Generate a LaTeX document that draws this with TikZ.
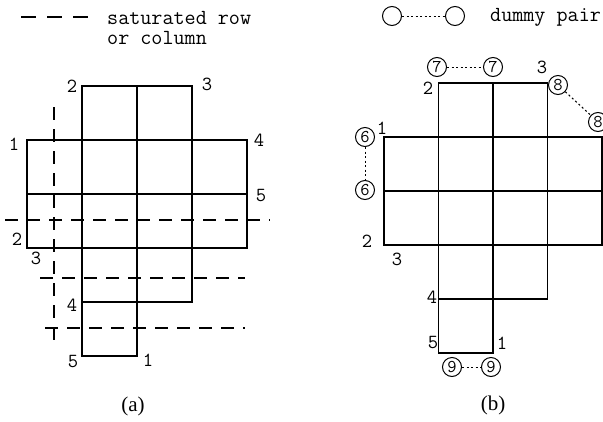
\documentclass[tikz,border=0pt]{standalone}
\usepackage{fontspec}
\setmainfont{Liberation Serif}
\usepackage{tikz}

\begin{document}
\begin{tikzpicture}[x=1pt,y=-1pt,
grid/.style={line width=1.4pt},
satline/.style={line width=1.1pt,dash pattern=on 13pt off 9pt},
num/.style={inner sep=0pt,font=\fontsize{20}{20}\ttfamily},
dummy/.style={circle,draw,line width=1pt,inner sep=0pt,minimum size=19pt,font=\fontsize{18}{18}\ttfamily},
pairline/.style={line width=1pt,dash pattern=on 2pt off 2.5pt}]
\useasboundingbox(0,0)rectangle(603,421);
% legend (a)
\draw[satline,dash pattern=on 15pt off 11pt](21,17)--(97,17);
\node[anchor=north west,align=left,inner sep=0pt,font=\fontsize{21.5}{20}\ttfamily](satnote)at(107,11){saturated row\\or column};
% figure (a)
\begin{scope}[shift={(27,86)},x=55pt,y=-54pt]
\foreach \c/\r in {1/0,2/0,0/1,1/1,2/1,3/1,0/2,1/2,2/2,3/2,1/3,2/3,1/4}
\draw[grid](\c,\r)rectangle++(1,1);
\end{scope}
\draw[satline](5,220)--(270,220);
\draw[satline](40,278)--(245,278);
\draw[satline](45,328)--(245,328);
\draw[satline](54,107)--(54,348);
\node[num](a2t)at(72,86){2};
\node[num](a3t)at(207,84){3};
\node[num](a1l)at(14,144){1};
\node[num](a4r)at(259,140){4};
\node[num](a5r)at(261,196){5};
\node[num](a2l)at(17,239){2};
\node[num](a3l)at(36,258){3};
\node[num](a4b)at(72,305){4};
\node[num](a5b)at(73,362){5};
\node[num](a1b)at(148,360){1};
\node[font=\fontsize{21}{21}\selectfont](capa)at(133,406){(a)};
% legend (b)
\node[dummy](leg1)at(392,16){};
\node[dummy](leg2)at(455,16){};
\draw[pairline](leg1)--(leg2);
\node[anchor=base west,inner sep=0pt,font=\fontsize{21.5}{20}\ttfamily](pairnote)at(490,21){dummy pair};
% figure (b)
\begin{scope}[shift={(384,83)},x=54.5pt,y=-54pt]
\foreach \c/\r in {1/0,2/0,0/1,1/1,2/1,3/1,0/2,1/2,2/2,3/2,1/3,2/3,1/4}
\draw[grid](\c,\r)rectangle++(1,1);
\end{scope}
\node[dummy](d6a)at(365,137){6};
\node[dummy](d6b)at(365,190){6};
\node[dummy](d7a)at(437,67){7};
\node[dummy](d7b)at(493,67){7};
\node[dummy](d8a)at(558,85){8};
\node[dummy](d8b)at(598,122){8};
\node[dummy](d9a)at(452,367){9};
\node[dummy](d9b)at(491,367){9};
\draw[pairline](d6a)--(d6b);
\draw[pairline](d7a)--(d7b);
\draw[pairline](d8a)--(d8b);
\draw[pairline](d9a)--(d9b);
\node[num](b2t)at(428,88){2};
\node[num](b3t)at(542,67){3};
\node[num](b1l)at(382,128){1};
\node[num](b2l)at(367,241){2};
\node[num](b3l)at(397,259){3};
\node[num](b4b)at(432,297){4};
\node[num](b5b)at(433,343){5};
\node[num](b1b)at(502,343){1};
\node[font=\fontsize{21}{21}\selectfont](capb)at(493,405){(b)};
\end{tikzpicture}
\end{document}
